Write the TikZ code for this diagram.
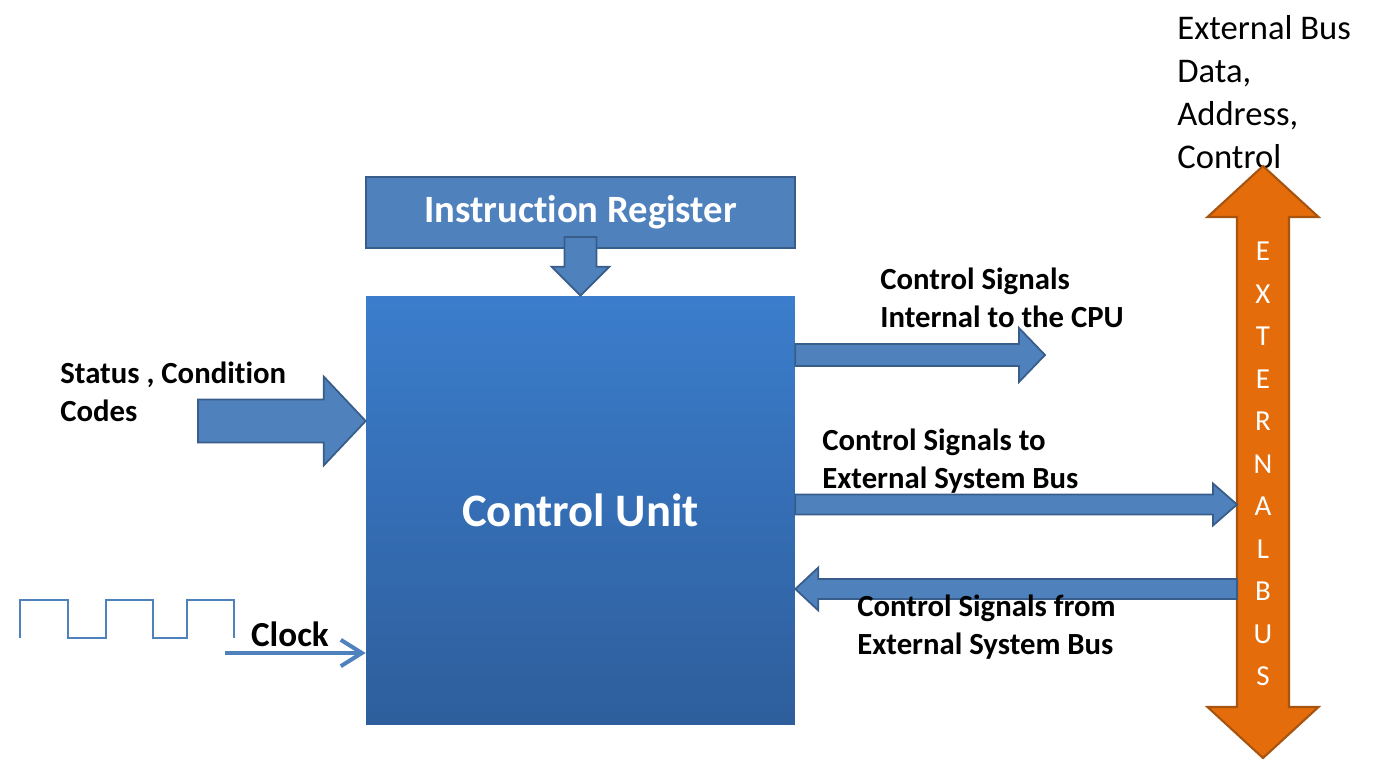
\documentclass[tikz,border=0pt]{standalone}
\usepackage{fontspec}
\setmainfont{Carlito}[Ligatures=NoCommon]
\usetikzlibrary{arrows.meta, positioning, calc}

\definecolor{regblue}{RGB}{79,129,189}
\definecolor{regedge}{RGB}{56,93,138}
\definecolor{unittop}{RGB}{59,125,204}
\definecolor{unitbot}{RGB}{46,94,156}
\definecolor{busorange}{RGB}{228,108,10}
\definecolor{busedge}{RGB}{166,84,16}

% block arrow from #2 to #3: shaft half width #4, head half width #5, head length #6 (px)
\newcommand{\blockarrow}[6][]{%
  \path[#1] let \p1=(#2), \p2=(#3),
    \n1={veclen(\x2-\x1,\y2-\y1)}, \n2={(\x2-\x1)/\n1}, \n3={(\y2-\y1)/\n1},
    \n4={\n1-#6*0.2mm}, \n5={#4*0.2mm}, \n6={#5*0.2mm}
  in ({\x1-(\n3)*\n5},{\y1+(\n2)*\n5})
    -- ({\x1+(\n2)*\n4-(\n3)*\n5},{\y1+(\n3)*\n4+(\n2)*\n5})
    -- ({\x1+(\n2)*\n4-(\n3)*\n6},{\y1+(\n3)*\n4+(\n2)*\n6})
    -- (\p2)
    -- ({\x1+(\n2)*\n4+(\n3)*\n6},{\y1+(\n3)*\n4-(\n2)*\n6})
    -- ({\x1+(\n2)*\n4+(\n3)*\n5},{\y1+(\n3)*\n4-(\n2)*\n5})
    -- ({\x1+(\n3)*\n5},{\y1-(\n2)*\n5}) -- cycle;}

% block arrow with a head at both ends
\newcommand{\dblarrow}[6][]{%
  \path[#1] let \p1=(#2), \p2=(#3),
    \n1={veclen(\x2-\x1,\y2-\y1)}, \n2={(\x2-\x1)/\n1}, \n3={(\y2-\y1)/\n1},
    \n4={#6*0.2mm}, \n7={\n1-#6*0.2mm}, \n5={#4*0.2mm}, \n6={#5*0.2mm}
  in (\p1)
    -- ({\x1+(\n2)*\n4-(\n3)*\n6},{\y1+(\n3)*\n4+(\n2)*\n6})
    -- ({\x1+(\n2)*\n4-(\n3)*\n5},{\y1+(\n3)*\n4+(\n2)*\n5})
    -- ({\x1+(\n2)*\n7-(\n3)*\n5},{\y1+(\n3)*\n7+(\n2)*\n5})
    -- ({\x1+(\n2)*\n7-(\n3)*\n6},{\y1+(\n3)*\n7+(\n2)*\n6})
    -- (\p2)
    -- ({\x1+(\n2)*\n7+(\n3)*\n6},{\y1+(\n3)*\n7-(\n2)*\n6})
    -- ({\x1+(\n2)*\n7+(\n3)*\n5},{\y1+(\n3)*\n7-(\n2)*\n5})
    -- ({\x1+(\n2)*\n4+(\n3)*\n5},{\y1+(\n3)*\n4-(\n2)*\n5})
    -- ({\x1+(\n2)*\n4+(\n3)*\n6},{\y1+(\n3)*\n4-(\n2)*\n6}) -- cycle;}

\tikzset{
  regbox/.style={rectangle, draw=regedge, fill=regblue, line width=1.2pt, inner sep=0pt,
    text=white, font=\fontsize{22}{26}\selectfont\bfseries},
  unitbox/.style={rectangle, top color=unittop, bottom color=unitbot, inner sep=0pt,
    text=white, font=\fontsize{26.5}{30}\selectfont\bfseries},
  blockarr/.style={draw=regedge, fill=regblue, line width=1pt},
  busarr/.style={draw=busedge, fill=busorange, line width=1.2pt},
  sigtext/.style={anchor=west, align=left, inner sep=0pt, font=\fontsize{17.5}{21.6}\selectfont\bfseries},
  wave/.style={draw=regblue, line width=1.2pt},
  clkarrow/.style={draw=regblue, line width=2.3pt, -{Straight Barb[length=12pt, width=15pt]}},
}

\begin{document}
\begin{tikzpicture}[x=0.02cm, y=-0.02cm]
    \useasboundingbox (0,0) rectangle (1380,768);

    % Instruction Register and Control Unit
    \node[regbox, minimum width=8.58cm, minimum height=1.42cm] (ir) at (580.5,212.5) {Instruction Register};
    \node[unitbox, minimum width=8.58cm, minimum height=8.58cm] (cu) at (580.5,510.5) {Control Unit};

    \blockarrow[blockarr]{$(ir.south)+(0,-12)$}{cu.north}{16}{29}{29}

    % Status input
    \coordinate (stsin) at (198,421);
    \blockarrow[blockarr]{stsin}{cu.west |- stsin}{21.5}{44.5}{42}
    \node[sigtext] (stslbl) at (60,392) {Status , Condition\\Codes};

    % Clock
    \draw[wave] (20,638) -- (20,600) -- (68,600) -- (68,638) -- (106,638) -- (106,600)
        -- (153,600) -- (153,638) -- (187,638) -- (187,600) -- (234,600) -- (234,638);
    \coordinate (clkin) at (225,653);
    \draw[clkarrow] (clkin) -- (cu.west |- clkin);
    \node[inner sep=0pt, font=\fontsize{20}{24}\selectfont\bfseries] (clklbl) at (290,634) {Clock};

    % External bus
    \node[anchor=west, align=left, inner sep=0pt, font=\fontsize{19.7}{24.4}\selectfont] (extlbl) at (1177,92)
        {External Bus\\Data,\\Address,\\Control};
    \coordinate (bustop) at (1263,166);
    \coordinate (busbot) at (1263,758);
    \dblarrow[busarr]{bustop}{busbot}{26}{55.5}{51}
    \node[align=center, inner sep=0pt, text=white, font=\fontsize{16.5}{24.2}\selectfont] (buslbl) at (1263,464)
        {E\\X\\T\\E\\R\\N\\A\\L\\B\\U\\S};
    \coordinate (busw) at (1237,464);

    % Control signals
    \coordinate (intout) at (1045,355);
    \blockarrow[blockarr]{cu.east |- intout}{intout}{11}{27}{26}
    \node[sigtext] (intlbl) at (880,298) {Control Signals\\Internal to the CPU};

    \blockarrow[blockarr]{$(cu.east)+(0,-6)$}{$(busw |- cu.east)+(0,-6)$}{10}{21}{24}
    \node[sigtext] (outlbl) at (822,461) {Control Signals to\\External System Bus};

    \blockarrow[blockarr]{$(busw |- cu.east)+(0,78.5)$}{$(cu.east)+(0,78.5)$}{10}{21.5}{23}
    \node[sigtext] (inlbl) at (857,627) {Control Signals from\\External System Bus};

\end{tikzpicture}
\end{document}
